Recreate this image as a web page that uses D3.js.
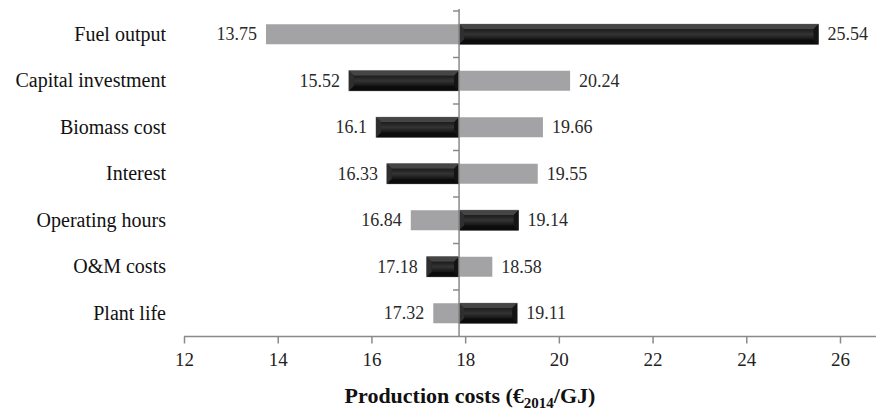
<!DOCTYPE html>
<html>
<head>
<meta charset="utf-8">
<script src="https://cdn.jsdelivr.net/npm/d3@7"></script>
<style>
  html, body { margin: 0; padding: 0; background: #fff; }
  svg { display: block; }
  text { font-family: "Liberation Serif", "Times New Roman", serif; }
</style>
</head>
<body>
<svg id="chart" width="876" height="418"></svg>
<script>
const categories = ["Fuel output", "Capital investment", "Biomass cost", "Interest", "Operating hours", "O&M costs", "Plant life"];
const lowValues  = [13.75, 15.52, 16.1, 16.33, 16.84, 17.18, 17.32];
const highValues = [25.54, 20.24, 19.66, 19.55, 19.14, 18.58, 19.11];
const lowIsDark  = [false, true, true, true, false, true, false];
const baseValue = 17.87;
const xTicks = [12, 14, 16, 18, 20, 22, 24, 26];
const xTitle = "Production costs (€";
const xTitleSub = "2014";
const xTitleEnd = "/GJ)";

const svg = d3.select("#chart");
const W = 876;
const x = d3.scaleLinear().domain([12, 26]).range([184, 840]);
const y = d3.scaleBand().domain(categories).range([11, 336.5]).padding(0);
const axisY = 336.5;
const barH = y.bandwidth() * 0.43;

// defs
const defs = svg.append("defs");
const g1 = defs.append("linearGradient").attr("id", "darkFace").attr("x1", 0).attr("y1", 0).attr("x2", 0).attr("y2", 1);
g1.append("stop").attr("offset", "0%").attr("stop-color", "#1c1c1c");
g1.append("stop").attr("offset", "50%").attr("stop-color", "#343434");
g1.append("stop").attr("offset", "100%").attr("stop-color", "#161616");

const rows = categories.map((c, i) => ({
  cat: c, low: lowValues[i], high: highValues[i], lowDark: lowIsDark[i]
}));

const segs = [];
rows.forEach(r => {
  segs.push({cat: r.cat, v: r.low, side: "low", dark: r.lowDark});
  segs.push({cat: r.cat, v: r.high, side: "high", dark: !r.lowDark});
});

const bars = svg.append("g");
segs.forEach(s => {
  const x0 = Math.min(x(s.v), x(baseValue));
  const x1 = Math.max(x(s.v), x(baseValue));
  const y0 = y(s.cat) + (y.bandwidth() - barH) / 2;
  const y1 = y0 + barH;
  if (!s.dark) {
    bars.append("rect").attr("x", x0).attr("y", y0).attr("width", x1 - x0).attr("height", barH)
      .attr("fill", "#a3a3a5");
  } else {
    const b = 5;
    bars.append("rect").attr("x", x0).attr("y", y0).attr("width", x1 - x0).attr("height", barH)
      .attr("fill", "#1e1e1e").attr("stroke", "#6a6a6a").attr("stroke-width", 0.8);
    const poly = (pts, fill) => bars.append("polygon").attr("points", pts.map(p => p.join(",")).join(" ")).attr("fill", fill);
    poly([[x0, y0], [x1, y0], [x1 - b, y0 + b], [x0 + b, y0 + b]], "#454545");
    poly([[x0, y1], [x1, y1], [x1 - b, y1 - b], [x0 + b, y1 - b]], "#0c0c0c");
    poly([[x0, y0], [x0 + b, y0 + b], [x0 + b, y1 - b], [x0, y1]], "#2e2e2e");
    poly([[x1, y0], [x1 - b, y0 + b], [x1 - b, y1 - b], [x1, y1]], "#141414");
    bars.append("rect").attr("x", x0 + b).attr("y", y0 + b).attr("width", Math.max(0, x1 - x0 - 2 * b)).attr("height", barH - 2 * b)
      .attr("fill", "url(#darkFace)");
  }
  // value label
  const isLeft = s.v < baseValue;
  svg.append("text")
    .attr("x", isLeft ? x(s.v) - 9 : x(s.v) + 9)
    .attr("y", y(s.cat) + y.bandwidth() / 2 + 6)
    .attr("text-anchor", isLeft ? "end" : "start")
    .attr("font-size", 18)
    .attr("fill", "#2a2a2a")
    .text(String(s.v));
});

// category labels
svg.append("g").selectAll("text").data(categories).join("text")
  .attr("x", 166)
  .attr("y", d => y(d) + y.bandwidth() / 2 + 6.5)
  .attr("text-anchor", "end")
  .attr("font-size", 20)
  .attr("fill", "#111")
  .text(d => d);

// vertical axis at base
const axColor = "#8a8a8a";
svg.append("line").attr("x1", x(baseValue)).attr("x2", x(baseValue)).attr("y1", 9).attr("y2", axisY)
  .attr("stroke", axColor).attr("stroke-width", 1.5);
const bounds = categories.map(c => y(c)).concat([y.range()[1]]);
svg.append("g").selectAll("line").data(bounds.slice(0, -1)).join("line")
  .attr("x1", x(baseValue) - 6).attr("x2", x(baseValue))
  .attr("y1", d => d).attr("y2", d => d)
  .attr("stroke", axColor).attr("stroke-width", 1.5);

// horizontal axis
const xAxis = d3.axisBottom(x).tickValues(xTicks).tickSize(7).tickSizeOuter(0).tickFormat(d3.format("d"));
const gx = svg.append("g").attr("transform", `translate(0,${axisY})`).call(xAxis);
gx.select(".domain").remove();
gx.selectAll(".tick line").attr("stroke", axColor).attr("stroke-width", 1.5);
gx.selectAll(".tick text").attr("font-size", 19).attr("fill", "#222").attr("dy", "1.05em")
  .attr("font-family", "'Liberation Serif', 'Times New Roman', serif");
svg.append("line").attr("x1", x(12)).attr("x2", W).attr("y1", axisY).attr("y2", axisY)
  .attr("stroke", axColor).attr("stroke-width", 1.5);

// title
const t = svg.append("text").attr("x", 470).attr("y", 403).attr("text-anchor", "middle")
  .attr("font-size", 22).attr("font-weight", "bold").attr("fill", "#111");
t.append("tspan").text(xTitle);
t.append("tspan").attr("font-size", 15).attr("dy", 5).text(xTitleSub);
t.append("tspan").attr("dy", -5).text(xTitleEnd);
</script>
</body>
</html>
